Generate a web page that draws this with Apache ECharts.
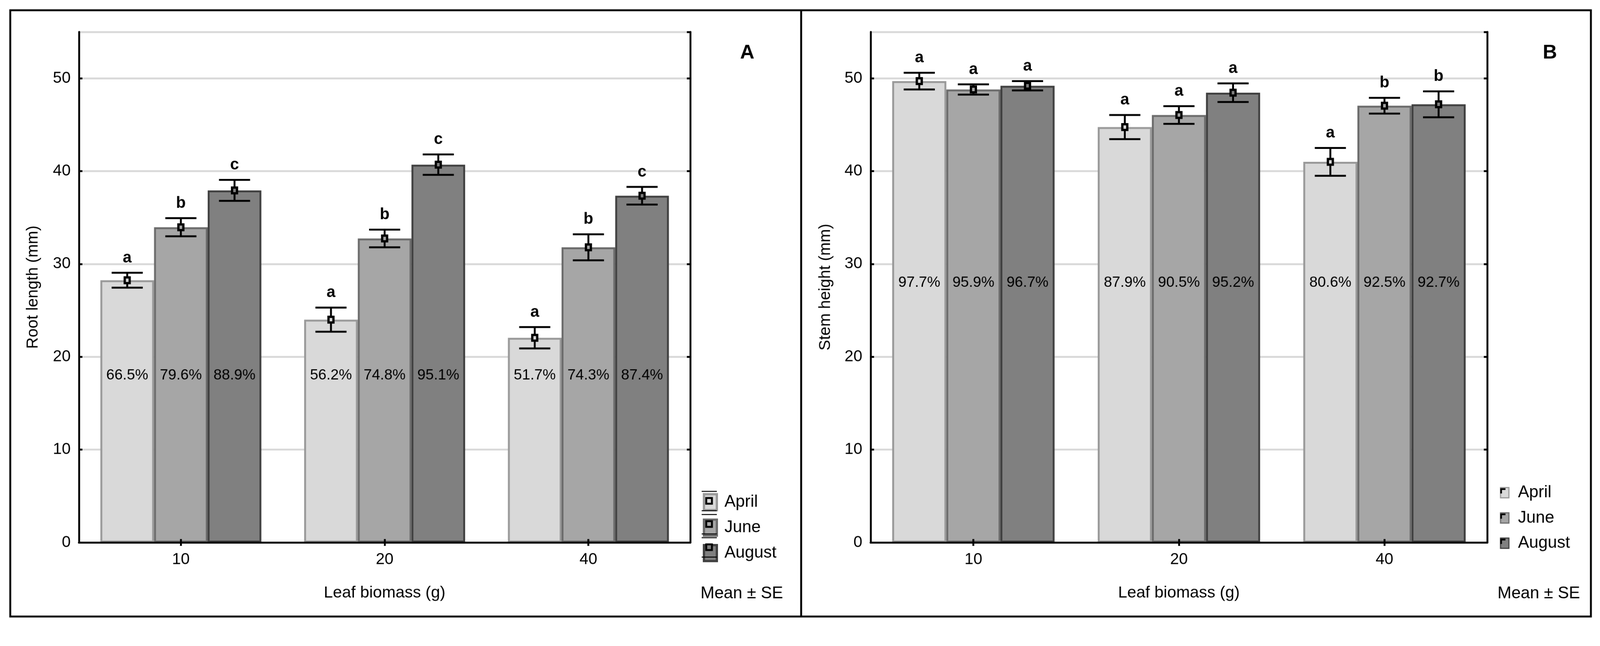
<!DOCTYPE html>
<html>
<head>
<meta charset="utf-8">
<script src="https://cdn.jsdelivr.net/npm/echarts@6/dist/echarts.min.js"></script>
<style>
html,body{margin:0;padding:0;background:#fff;overflow:hidden;}
#chart{width:4214px;height:1653px;transform-origin:0 0;}
</style>
</head>
<body>
<div id="chart"></div>
<script>
// ---------- data ----------
const categories = ['10', '20', '40'];
const months = ['April', 'June', 'August'];
const yMin = 0, yMax = 55, yInterval = 10;

// Panel A: Root length (mm)
const rootApril = [28.25, 24.0, 22.05];
const rootJune = [33.96, 32.75, 31.8];
const rootAugust = [37.93, 40.7, 37.35];
const rootAprilSE = [0.8, 1.3, 1.15];
const rootJuneSE = [0.98, 0.95, 1.4];
const rootAugustSE = [1.13, 1.1, 0.95];
const rootAprilLetters = ['a', 'a', 'a'];
const rootJuneLetters = ['b', 'b', 'b'];
const rootAugustLetters = ['c', 'c', 'c'];
const rootAprilPct = ['66.5%', '56.2%', '51.7%'];
const rootJunePct = ['79.6%', '74.8%', '74.3%'];
const rootAugustPct = ['88.9%', '95.1%', '87.4%'];

// Panel B: Stem height (mm)
const stemApril = [49.7, 44.75, 41.0];
const stemJune = [48.8, 46.05, 47.05];
const stemAugust = [49.2, 48.45, 47.2];
const stemAprilSE = [0.9, 1.3, 1.5];
const stemJuneSE = [0.55, 0.95, 0.85];
const stemAugustSE = [0.5, 1.0, 1.4];
const stemAprilLetters = ['a', 'a', 'a'];
const stemJuneLetters = ['a', 'a', 'b'];
const stemAugustLetters = ['a', 'a', 'b'];
const stemAprilPct = ['97.7%', '87.9%', '80.6%'];
const stemJunePct = ['95.9%', '90.5%', '92.5%'];
const stemAugustPct = ['96.7%', '95.2%', '92.7%'];

// ---------- fit page to the actual viewport ----------
(function () {
  const s = Math.min(window.innerWidth / 4214, window.innerHeight / 1653);
  if (s && isFinite(s) && Math.abs(s - 1) > 0.002) {
    document.getElementById('chart').style.transform = 'scale(' + s + ')';
  }
})();

// ---------- styles ----------
const FONT = 'Liberation Sans, Arial, sans-serif';
const fills = ['#d9d9d9', '#a6a6a6', '#808080'];
const borders = ['#999999', '#6b6b6b', '#404040'];
const CAT_GAP = 0.21;

const panels = [
  {
    grid: {left: 208, top: 84, width: 1610, height: 1344},
    yName: 'Root length (mm)', yNameGap: 100, pctAt: 18,
    means: [rootApril, rootJune, rootAugust],
    ses: [rootAprilSE, rootJuneSE, rootAugustSE],
    letters: [rootAprilLetters, rootJuneLetters, rootAugustLetters],
    pcts: [rootAprilPct, rootJunePct, rootAugustPct]
  },
  {
    grid: {left: 2293, top: 84, width: 1624, height: 1344},
    yName: 'Stem height (mm)', yNameGap: 98, pctAt: 28,
    means: [stemApril, stemJune, stemAugust],
    ses: [stemAprilSE, stemJuneSE, stemAugustSE],
    letters: [stemAprilLetters, stemJuneLetters, stemAugustLetters],
    pcts: [stemAprilPct, stemJunePct, stemAugustPct]
  }
];

const grids = [], xAxes = [], yAxes = [], series = [];
panels.forEach((p, pi) => {
  grids.push(Object.assign({containLabel: false}, p.grid));
  const blackLine = {show: true, lineStyle: {color: '#000', width: 5}};
  const tick = {show: true, inside: true, length: 9, lineStyle: {color: '#000', width: 5}};
  xAxes.push({
    gridIndex: pi, type: 'category', data: categories, position: 'bottom', z: 10,
    axisLine: blackLine, axisTick: Object.assign({alignWithLabel: true}, tick),
    axisLabel: {color: '#000', fontSize: 42, fontFamily: FONT, margin: 24},
    splitLine: {show: false},
    name: 'Leaf biomass (g)', nameLocation: 'middle', nameGap: 112,
    nameTextStyle: {color: '#000', fontSize: 43, fontFamily: FONT}
  });
  xAxes.push({
    gridIndex: pi, type: 'category', data: categories, position: 'top', z: 10,
    axisLine: blackLine, axisTick: Object.assign({alignWithLabel: true}, tick),
    axisLabel: {show: false}, splitLine: {show: false}
  });
  yAxes.push({
    gridIndex: pi, type: 'value', min: yMin, max: yMax, interval: yInterval, position: 'left',
    axisLine: blackLine, axisTick: tick,
    axisLabel: {color: '#000', fontSize: 42, fontFamily: FONT, margin: 22, showMaxLabel: false},
    splitLine: {show: true, lineStyle: {color: '#d9d9d9', width: 5}},
    name: p.yName, nameLocation: 'middle', nameGap: p.yNameGap, nameRotate: 90,
    nameTextStyle: {color: '#000', fontSize: 42, fontFamily: FONT}
  });
  yAxes.push({
    gridIndex: pi, type: 'value', min: yMin, max: yMax, interval: yInterval, position: 'right', z: 10,
    axisLine: blackLine, axisTick: tick, axisLabel: {show: false}, splitLine: {show: false}
  });

  months.forEach((m, k) => {
    series.push({
      type: 'bar', name: m, xAxisIndex: pi * 2, yAxisIndex: pi * 2,
      data: p.means[k], barGap: '0%', barCategoryGap: (CAT_GAP * 100) + '%',
      itemStyle: {color: fills[k], borderColor: borders[k], borderWidth: 5},
      z: 2
    });
  });
  months.forEach((m, k) => {
    const data = p.means[k].map((v, i) => [i, v, p.ses[k][i]]);
    series.push({
      type: 'custom', name: m + ' SE', xAxisIndex: pi * 2, yAxisIndex: pi * 2, z: 5,
      data: data, encode: {x: 0, y: 1}, silent: true,
      renderItem: function (params, api) {
        const i = params.dataIndex;
        const cat = api.value(0), mean = api.value(1), se = api.value(2);
        const band = api.size([1, 0])[0];
        const barW = band * (1 - CAT_GAP) / 3;
        const c = api.coord([cat, mean]);
        const x = c[0] + (k - 1) * barW;
        const yT = api.coord([cat, mean + se])[1];
        const yB = api.coord([cat, mean - se])[1];
        const yL = api.coord([cat, p.pctAt])[1];
        const st = {stroke: '#000', lineWidth: 5};
        return {
          type: 'group',
          children: [
            {type: 'line', shape: {x1: x, y1: yT, x2: x, y2: yB}, style: st},
            {type: 'line', shape: {x1: x - 41, y1: yT, x2: x + 41, y2: yT}, style: st},
            {type: 'line', shape: {x1: x - 41, y1: yB, x2: x + 41, y2: yB}, style: st},
            {type: 'rect', shape: {x: x - 6.5, y: c[1] - 7.5, width: 13, height: 15},
              style: {fill: fills[k], stroke: '#000', lineWidth: 6}},
            {type: 'text', x: x, y: yT - 18,
              style: {text: p.letters[k][i], fill: '#000', font: 'bold 42px ' + FONT,
                textAlign: 'center', textVerticalAlign: 'bottom'}},
            {type: 'text', x: x, y: yL,
              style: {text: p.pcts[k][i], fill: '#000', font: '39px ' + FONT,
                textAlign: 'center', textVerticalAlign: 'middle'}}
          ]
        };
      }
    });
  });
});

// Legends
const LA = {left: 1851, top: 1298, w: 34, h: 42, step: 61};
const LB = {left: 3950.5, top: 1275, w: 22, h: 27, step: 66.5};
const legendA = {
  left: LA.left, top: LA.top, orient: 'vertical', padding: 0,
  itemWidth: LA.w, itemHeight: LA.h, itemGap: LA.step - LA.h, icon: 'rect',
  textStyle: {color: '#000', fontSize: 44, fontFamily: FONT, lineHeight: 42, padding: [0, 0, 0, 15]},
  selectedMode: false,
  data: months.map((m, k) => ({name: m, itemStyle: {color: fills[k], borderColor: borders[k], borderWidth: 6}}))
};
const legendB = {
  left: LB.left, top: LB.top, orient: 'vertical', padding: 0,
  itemWidth: LB.w, itemHeight: LB.h, itemGap: LB.step - 44, icon: 'rect',
  textStyle: {color: '#000', fontSize: 44, fontFamily: FONT, lineHeight: 44, padding: [0, 0, 0, 19]},
  selectedMode: false,
  data: months.map((m, k) => ({name: m, itemStyle: {color: fills[k], borderColor: borders[k], borderWidth: 3}}))
};

// graphics: frame, panel letters, "Mean ± SE", legend markers
const graphics = [
  {type: 'rect', shape: {x: 27, y: 27, width: 4163, height: 1596}, style: {fill: 'none', stroke: '#000', lineWidth: 5}, z: 100},
  {type: 'line', shape: {x1: 2110, y1: 27, x2: 2110, y2: 1623}, style: {stroke: '#000', lineWidth: 5}, z: 100},
  {type: 'text', x: 1968, y: 140, style: {text: 'A', font: 'bold 52px ' + FONT, fill: '#000', textAlign: 'center', textVerticalAlign: 'middle'}},
  {type: 'text', x: 4082, y: 140, style: {text: 'B', font: 'bold 52px ' + FONT, fill: '#000', textAlign: 'center', textVerticalAlign: 'middle'}},
  {type: 'text', x: 1845, y: 1563, style: {text: 'Mean ± SE', font: '44px ' + FONT, fill: '#000', textAlign: 'left', textVerticalAlign: 'middle'}},
  {type: 'text', x: 3944, y: 1563, style: {text: 'Mean ± SE', font: '44px ' + FONT, fill: '#000', textAlign: 'left', textVerticalAlign: 'middle'}}
];
months.forEach((m, k) => {
  // A legend: marker square and dark edge lines
  const cx = LA.left + LA.w / 2, cy = LA.top + LA.h / 2 + k * LA.step;
  graphics.push({type: 'rect', shape: {x: cx - 8, y: cy - 8, width: 15, height: 15},
    style: {fill: fills[k], stroke: '#000', lineWidth: 5}, z: 100});
  const x0 = LA.left - 3, x1 = LA.left + LA.w + 3;
  const yTopEdge = LA.top + k * LA.step - 4.5, yBotEdge = LA.top + k * LA.step + LA.h + 4.5;
  graphics.push({type: 'line', shape: {x1: x0, y1: yTopEdge, x2: x1, y2: yTopEdge}, style: {stroke: '#000', lineWidth: 2.5}, z: 100});
  graphics.push({type: 'line', shape: {x1: x0, y1: yBotEdge, x2: x1, y2: yBotEdge}, style: {stroke: '#000', lineWidth: 2.5}, z: 100});
  // B legend: corner mark
  const ty = LB.top + (44 - LB.h) / 2 - 1.5 + k * LB.step;
  const tx = LB.left - 1.5;
  graphics.push({type: 'polyline', shape: {points: [[tx + 4.5, ty + 17], [tx + 4.5, ty + 5.5], [tx + 16, ty + 5.5]]},
    style: {stroke: '#000', lineWidth: 4.5, fill: 'none'}, z: 100});
});

const chart = echarts.init(document.getElementById('chart'), null, {renderer: 'canvas', width: 4214, height: 1653});
chart.setOption({
  backgroundColor: '#fff',
  animation: false,
  textStyle: {fontFamily: FONT},
  grid: grids, xAxis: xAxes, yAxis: yAxes,
  legend: [legendA, legendB],
  series: series,
  graphic: graphics
});
</script>
</body>
</html>
